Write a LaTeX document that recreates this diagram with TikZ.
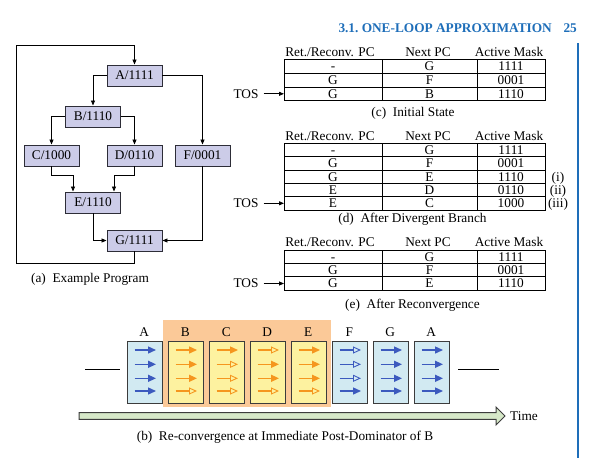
\documentclass[tikz,border=0pt]{standalone}
\usepackage{fontspec}
\setmainfont{Liberation Serif}
\usetikzlibrary{arrows.meta,calc}
\definecolor{hdrblue}{RGB}{30,110,185}
\definecolor{progfill}{RGB}{204,204,232}
\definecolor{progdraw}{RGB}{45,45,55}
\definecolor{boxb}{RGB}{210,234,242}
\definecolor{boxo}{RGB}{253,242,160}
\definecolor{arrb}{RGB}{60,90,190}
\definecolor{arro}{RGB}{245,150,30}
\definecolor{orangebg}{RGB}{251,201,152}
\definecolor{timefill}{RGB}{214,232,200}
\definecolor{pborder}{RGB}{60,60,60}
\newcommand\stacktable[4]{%
  \node[cell] (#1-h1) at (330,#2-7.5) {Ret./Reconv. PC};
  \node[cell] (#1-h2) at (428,#2-7.5) {Next PC};
  \node[cell] (#1-h3) at (509,#2-7.5) {Active Mask};
  \foreach \a/\b/\c [count=\n] in {#4}{
    \pgfmathsetmacro\yt{#2+(\n-1)*#3}
    \pgfmathsetmacro\yb{\yt+#3}
    \pgfmathsetmacro\yc{\yt+#3/2}
    \draw[tline] (284,\yt) rectangle (545,\yb);
    \draw[tline] (382,\yt) -- (382,\yb) (477,\yt) -- (477,\yb);
    \node[cell] (#1-\n-a) at (333,\yc) {\a};
    \node[cell] (#1-\n-b) at (429.5,\yc) {\b};
    \node[cell] (#1-\n-c) at (511,\yc) {\c};
  }
}
\begin{document}
\begin{tikzpicture}[x=1pt,y=-1pt,
  every node/.style={font=\fontsize{13.3}{16}\selectfont},
  cell/.style={inner sep=0pt, text height=8.8pt, text depth=0pt},
  prog/.style={draw=progdraw, fill=progfill, minimum width=55pt, minimum height=21pt,
    inner sep=0pt, line width=0.9pt, text height=8.8pt, text depth=0pt},
  edge/.style={line width=0.8pt, -{Triangle[length=5pt,width=4pt]}},
  tline/.style={line width=0.8pt},
  tosarrow/.style={line width=0.8pt, -{Triangle[length=5pt,width=4pt]}},
  pbox/.style={draw=pborder, line width=1.2pt, minimum width=35.5pt, minimum height=61.5pt, inner sep=0pt},
  parr/.style={draw=#1, line width=1.4pt, -{Triangle[length=8pt,width=7pt,fill=#1]}},
  parrO/.style={draw=#1, line width=1.4pt, -{Triangle[open,length=8pt,width=7pt,line width=0.9pt]}},
  timearrow/.style={draw=pborder, fill=timefill, line width=1pt}
]
\useasboundingbox (0,0) rectangle (592,461);

% header
\node[anchor=base east, inner sep=0pt, font=\fontsize{13.3}{16}\selectfont\bfseries, text=hdrblue] (hdr) at (552,32.5) {3.1.\ ONE-LOOP APPROXIMATION};
\node[anchor=base east, inner sep=0pt, font=\fontsize{13.3}{16}\selectfont\bfseries, text=hdrblue] (pg) at (577,32.5) {25};
\coordinate (vl1) at (578,43);
\coordinate (vl2) at (578,458);
\draw[hdrblue, line width=1.3pt] (vl1) -- (vl2);

% (a) example program
\node[prog] (A) at (134.5,75.5) {A/1111};
\node[prog] (B) at (93,116.5) {B/1110};
\node[prog] (C) at (51.5,155.5) {C/1000};
\node[prog] (D) at (134.5,155.5) {D/0110};
\node[prog] (F) at (202.5,155.5) {F/0001};
\node[prog] (E) at (93,202.5) {E/1110};
\node[prog] (G) at (134.5,240.5) {G/1111};
\draw[edge] (A.west) -| (B.north);
\draw[edge] (A.east) -| (F.north);
\draw[edge] (B.west) -| (C.north);
\draw[edge] (B.east) -| (D.north);
\draw[edge] (C.south) -- ++(0,9) -| ([xshift=-20pt]E.north);
\draw[edge] (D.south) -- ++(0,9) -| ([xshift=21pt]E.north);
\draw[edge] (E.south) |- (G.west);
\draw[edge] (F.south) |- (G.east);
\coordinate (lb) at (16,263);
\coordinate (lt) at (16,45);
\draw[edge] (G.south) -- (G.south |- lb) -- (lb) -- (lt) -| (A.north);
\node[cell] (capa) at (90,278) {(a)\ \ Example Program};

% (c) initial state
\stacktable{c}{59.3}{13.8}{-/G/1111, G/F/0001, G/B/1110}
\node[cell] (tosc) at (246,93.8) {TOS};
\coordinate (tosct) at (284,93.8);
\draw[tosarrow] ([xshift=5pt]tosc.east) -- (tosct);
\node[cell] (capc) at (413,112) {(c)\ \ Initial State};

% (d) after divergent branch
\stacktable{d}{143.4}{13.3}{-/G/1111, G/F/0001, G/E/1110, E/D/0110, E/C/1000}
\node[cell] (tosd) at (246,203.3) {TOS};
\coordinate (tosdt) at (284,203.3);
\draw[tosarrow] ([xshift=5pt]tosd.east) -- (tosdt);
\node[cell] (di) at (558,176.7) {(i)};
\node[cell] (dii) at (558,190) {(ii)};
\node[cell] (diii) at (558,203.3) {(iii)};
\node[cell] (capd) at (412.5,217.7) {(d)\ \ After Divergent Branch};

% (e) after reconvergence
\stacktable{e}{250}{13.4}{-/G/1111, G/F/0001, G/E/1110}
\node[cell] (tose) at (246,283.5) {TOS};
\coordinate (toset) at (284,283.5);
\draw[tosarrow] ([xshift=5pt]tose.east) -- (toset);
\node[cell] (cape) at (412.5,304) {(e)\ \ After Reconvergence};

% (b) timeline
\fill[orangebg] (162.7,320) rectangle (330.7,407);
\foreach \i/\lab/\ma/\mb/\mc/\md/\k in {0/A/1/1/1/1/b,1/B/1/1/1/0/o,2/C/1/0/0/0/o,3/D/0/1/1/0/o,4/E/1/1/1/0/o,5/F/0/0/0/1/b,6/G/1/1/1/1/b,7/A/1/1/1/1/b}{
  \pgfmathsetmacro\xl{126.5+41*\i}
  \node[pbox, fill=box\k, anchor=north west] (p\i) at (\xl,341) {};
  \node[cell] (l\i) at (\xl+17.75,331.7) {\lab};
  \foreach \yy/\bit in {350/\ma,364.3/\mb,378.3/\mc,391/\md}{
    \ifnum\bit=1
      \draw[parr=arr\k] (\xl+8,\yy) -- (\xl+29.5,\yy);
    \else
      \draw[parrO=arr\k] (\xl+8,\yy) -- (\xl+29.5,\yy);
    \fi
  }
}
\coordinate (ll1) at (85,369.3);
\coordinate (ll2) at (120,369.3);
\coordinate (rl1) at (458.3,369.3);
\coordinate (rl2) at (499.3,369.3);
\draw[line width=1pt] (ll1) -- (ll2);
\draw[line width=1pt] (rl1) -- (rl2);
\draw[timearrow] (79,412.7) -- (496,412.7) -- (496,407) -- (505,416) -- (496,425) -- (496,419.3) -- (79,419.3) -- cycle;
\node[cell, anchor=west] (time) at (510,416) {Time};
\node[cell] (capb) at (285,436) {(b)\ \ Re-convergence at Immediate Post-Dominator of B};
\end{tikzpicture}
\end{document}
